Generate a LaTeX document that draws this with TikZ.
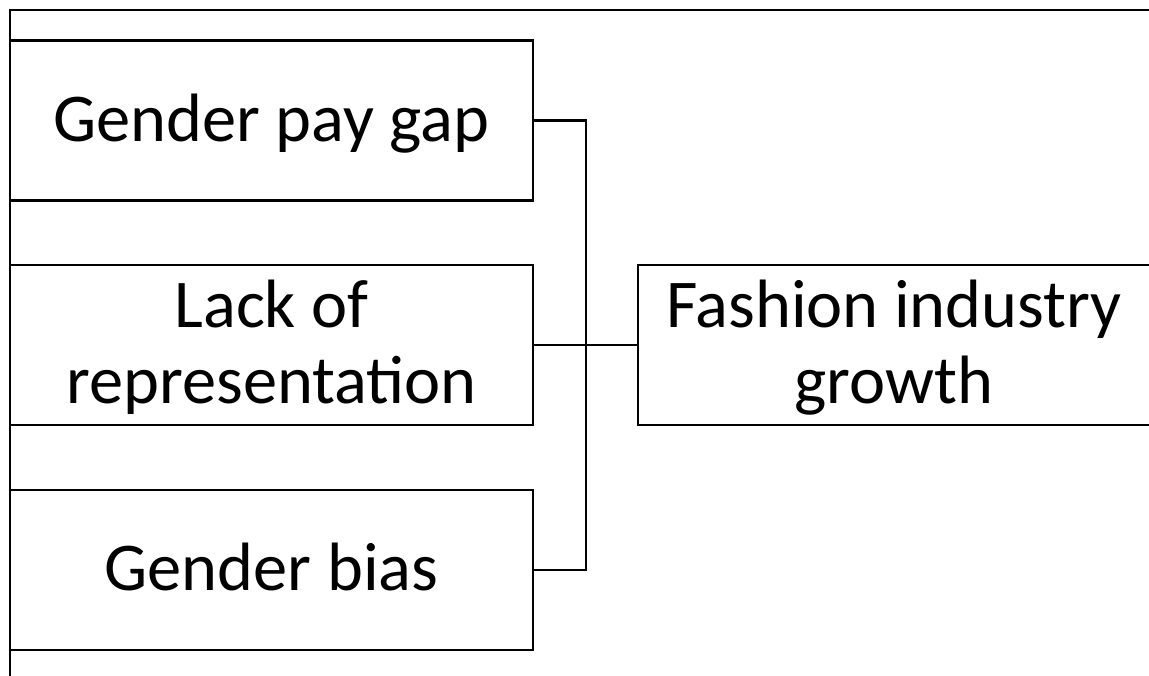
\documentclass[tikz,border=0pt]{standalone}
\usepackage{fontspec}
\setmainfont{Carlito}
\usepackage{tikz}
\usetikzlibrary{positioning,calc}

% line strut as in a word processor
\newcommand{\wstrut}{\rule[-0.2em]{0pt}{1em}}

\begin{document}
\begin{tikzpicture}[
        x=0.75pt, y=-0.75pt,
        box/.style={rectangle, draw=black, line width=1.6pt, minimum width=392pt, minimum height=120pt, align=center, inner sep=2pt, font=\fontsize{51.3}{57}\selectfont},
        link/.style={draw=black, line width=1.6pt}
    ]

    % page area and frame
    \clip (0,0) rectangle (1149,675);
    \draw[link] (10,680) -- (10,10) -- (1160,10);

    % causes
    \node[box] (pay) at (271.5,120.5) {\wstrut Gender pay gap};
    \node[box] (lack) at (271.5,345) {\wstrut Lack of\\\wstrut representation};
    \node[box] (bias) at (271.5,570) {\wstrut Gender bias};

    % effect
    \node[box, minimum width=384pt] (growth) at (894,345) {\wstrut Fashion industry\\\wstrut growth};

    % connectors
    \coordinate (join) at (586,345);
    \draw[link] (pay.east) -| (join) |- (bias.east);
    \draw[link] (lack.east) -- (growth.west);

\end{tikzpicture}
\end{document}
